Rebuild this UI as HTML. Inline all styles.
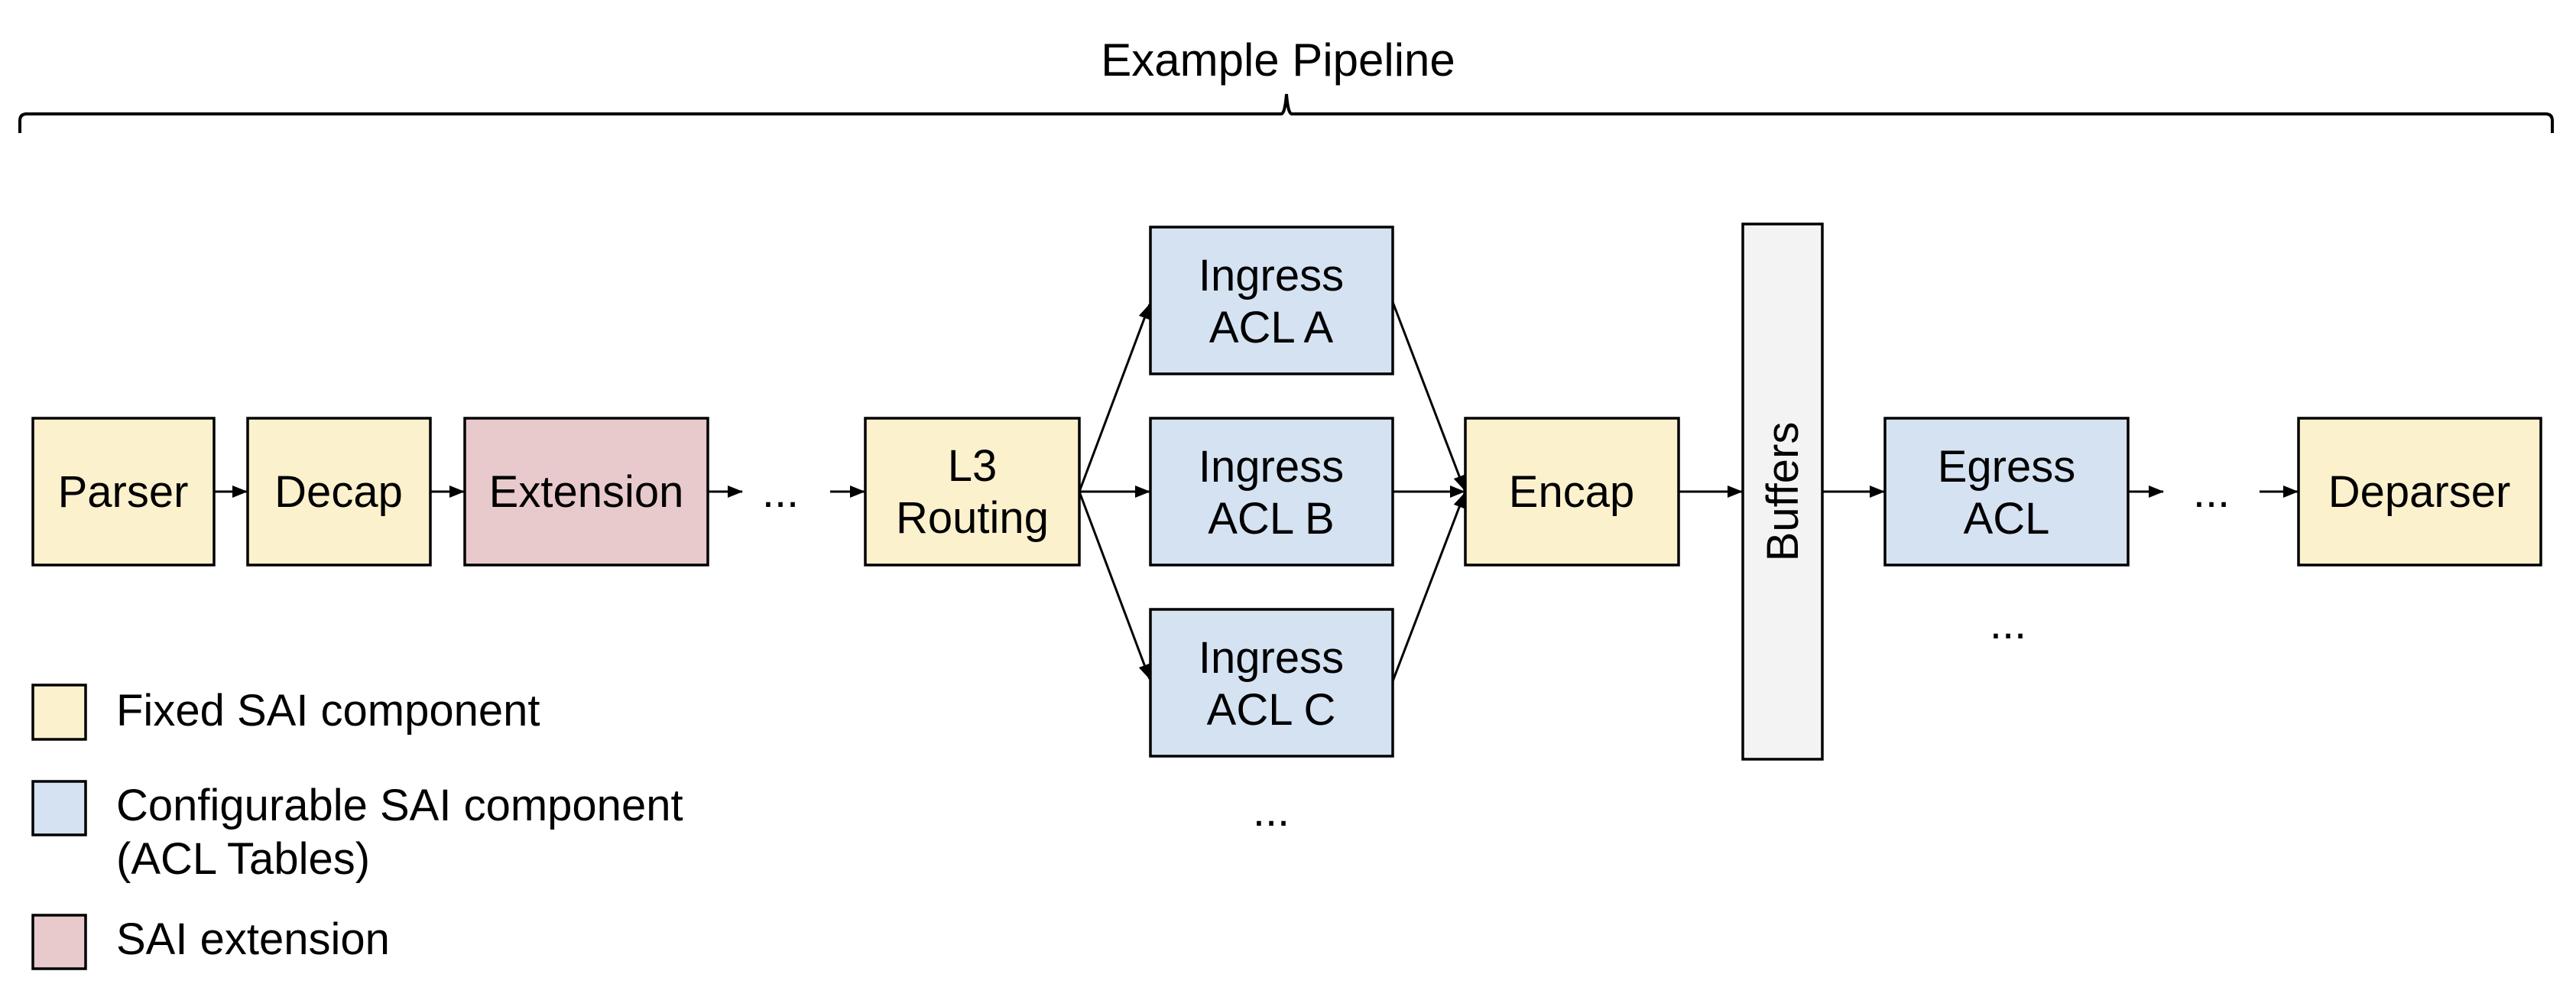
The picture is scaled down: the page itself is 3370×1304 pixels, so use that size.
<!DOCTYPE html>
<html><head><meta charset="utf-8"><style>
html,body{margin:0;padding:0;background:#fff;}
svg{display:block;}
text{font-family:"Liberation Sans",Arial,sans-serif;fill:#000;}
</style></head><body>
<svg width="3370" height="1304" viewBox="0 0 3370 1304" xmlns="http://www.w3.org/2000/svg">
<defs>
<marker id="ah" markerWidth="20" markerHeight="16" refX="19" refY="8" orient="auto" markerUnits="userSpaceOnUse" viewBox="0 0 20 16">
<path d="M0,0 L20,8 L0,16 z" fill="#000"/>
</marker>
</defs>
<g>
<text x="1672" y="99" font-size="60" text-anchor="middle">Example Pipeline</text>
<path d="M26,174 L26,158 Q26,149 35,149 L1676,149 Q1681,149 1683,123 Q1685,149 1690,149 L3330,149 Q3339,149 3339,158 L3339,174" fill="none" stroke="#000" stroke-width="4"/>
</g>
<g stroke="#000" stroke-width="3.5">
<rect x="43" y="547" width="237" height="192" fill="#fcf1cd"/>
<rect x="324" y="547" width="239" height="192" fill="#fcf1cd"/>
<rect x="608" y="547" width="318" height="192" fill="#e8cacc"/>
<rect x="1132" y="547" width="280" height="192" fill="#fcf1cd"/>
<rect x="1505" y="297" width="317" height="192" fill="#d5e2f2"/>
<rect x="1505" y="547" width="317" height="192" fill="#d5e2f2"/>
<rect x="1505" y="797" width="317" height="192" fill="#d5e2f2"/>
<rect x="1917" y="547" width="279" height="192" fill="#fcf1cd"/>
<rect x="2280" y="293" width="104" height="700" fill="#f3f3f3"/>
<rect x="2466" y="547" width="318" height="192" fill="#d5e2f2"/>
<rect x="3007" y="547" width="317" height="192" fill="#fcf1cd"/>
<rect x="43" y="896" width="69" height="71" fill="#fcf1cd"/>
<rect x="43" y="1022" width="69" height="70" fill="#d5e2f2"/>
<rect x="43" y="1197" width="69" height="70" fill="#e8cacc"/>
</g>
<g stroke="#000" stroke-width="3" marker-end="url(#ah)" fill="none">
<line x1="280" y1="643" x2="323" y2="643"/>
<line x1="563" y1="643" x2="607" y2="643"/>
<line x1="926" y1="643" x2="971" y2="643"/>
<line x1="1086" y1="643" x2="1131" y2="643"/>
<line x1="1412" y1="643" x2="1504" y2="398"/>
<line x1="1412" y1="643" x2="1504" y2="643"/>
<line x1="1412" y1="643" x2="1504" y2="888"/>
<line x1="1822" y1="395" x2="1916" y2="641"/>
<line x1="1822" y1="643" x2="1916" y2="643"/>
<line x1="1822" y1="891" x2="1916" y2="645"/>
<line x1="2196" y1="643" x2="2279" y2="643"/>
<line x1="2384" y1="643" x2="2465" y2="643"/>
<line x1="2784" y1="643" x2="2830" y2="643"/>
<line x1="2956" y1="643" x2="3006" y2="643"/>
</g>
<g font-size="58" text-anchor="middle">
<text x="161" y="663">Parser</text>
<text x="443" y="663">Decap</text>
<text x="767" y="663">Extension</text>
<text x="1021" y="663">...</text>
<text x="1272" y="629">L3</text>
<text x="1272" y="697">Routing</text>
<text x="1663" y="380">Ingress</text>
<text x="1663" y="448">ACL A</text>
<text x="1663" y="630">Ingress</text>
<text x="1663" y="698">ACL B</text>
<text x="1663" y="880">Ingress</text>
<text x="1663" y="948">ACL C</text>
<text x="1663" y="1080">...</text>
<text x="2056" y="663">Encap</text>
<text x="2625" y="630">Egress</text>
<text x="2625" y="698">ACL</text>
<text x="2627" y="835">...</text>
<text x="2893" y="663">...</text>
<text x="3165" y="663">Deparser</text>
<text transform="translate(2352,643) rotate(-90)" x="0" y="0">Buffers</text>
</g>
<g font-size="58">
<text x="152" y="949">Fixed SAI component</text>
<text x="152" y="1073">Configurable SAI component</text>
<text x="152" y="1143">(ACL Tables)</text>
<text x="152" y="1248">SAI extension</text>
</g>
</svg>
</body></html>
